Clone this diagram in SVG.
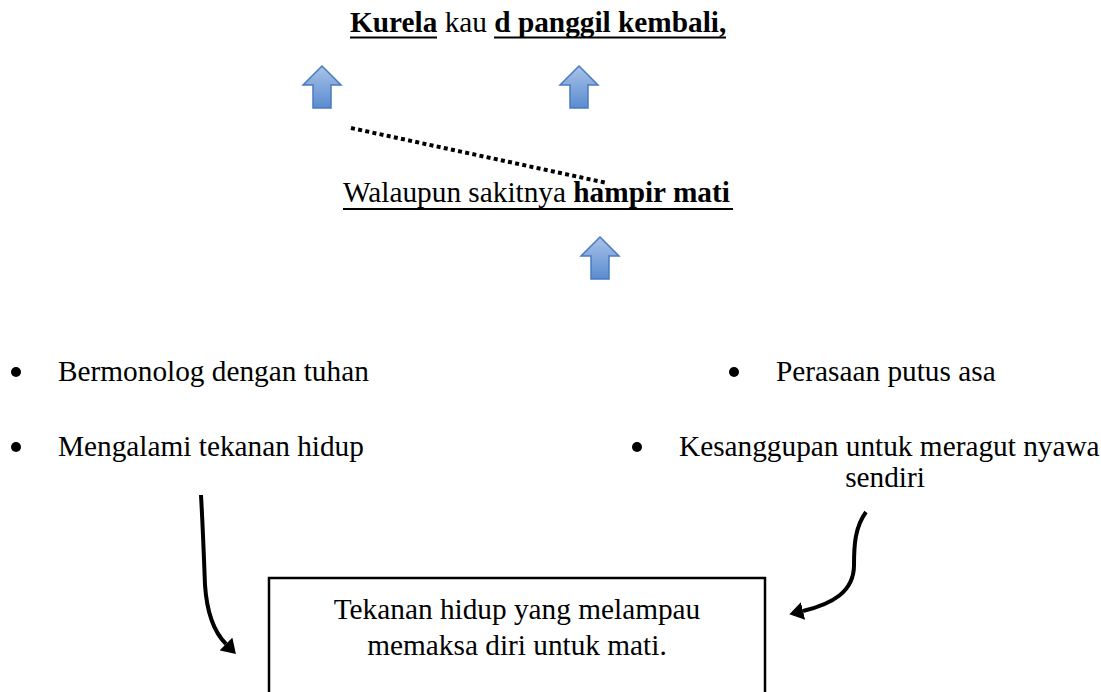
<svg xmlns="http://www.w3.org/2000/svg" xmlns:xlink="http://www.w3.org/1999/xlink" width="1101" height="692" viewBox="0 0 1101 692">
<style>
.t{font-family:"Liberation Serif","Times New Roman",serif;font-size:29.3px;fill:#000}
.b{font-weight:bold}
.ul{stroke:#000;stroke-width:2}
.curve{fill:none;stroke:#000;stroke-width:4;stroke-linecap:butt}
.dots{fill:none;stroke:#000;stroke-width:4;stroke-dasharray:4 3.3}
.blue{fill:url(#bg);stroke:#4a7bc0;stroke-width:1.5}
.box{fill:#fff;stroke:#000;stroke-width:2.5}
.bul{fill:#000}
</style>
<defs>
<linearGradient id="bg" x1="0" y1="0" x2="0" y2="1">
<stop offset="0" stop-color="#a9c3e8"/>
<stop offset="1" stop-color="#5a8bd0"/>
</linearGradient>
<path id="up" d="M19 0 L38 19 L28 19 L28 42 L10 42 L10 19 L0 19 Z"/>
<marker id="ah" markerUnits="userSpaceOnUse" viewBox="0 0 14 18" markerWidth="14" markerHeight="18" refX="0" refY="9" orient="auto">
<path d="M0 0 L14 9 L0 18 Z" fill="#000"/>
</marker>
</defs>
<rect width="1101" height="692" fill="#fff"/>
<g id="title">
<text class="t" x="350" y="32"><tspan class="b">Kurela</tspan> kau <tspan class="b">d panggil kembali,</tspan></text>
<line class="ul" x1="350" y1="37.5" x2="437" y2="37.5"/>
<line class="ul" x1="494" y1="37.5" x2="726" y2="37.5"/>
</g>
<g id="walaupun">
<text class="t" x="343" y="202">Walaupun sakitnya <tspan class="b">hampir mati</tspan></text>
<line class="ul" x1="343" y1="209" x2="733" y2="209"/>
</g>
<g id="bullet-left-1">
<circle class="bul" cx="16" cy="372" r="5"/>
<text class="t" x="58" y="381">Bermonolog dengan tuhan</text>
</g>
<g id="bullet-left-2">
<circle class="bul" cx="16" cy="447" r="5"/>
<text class="t" x="58" y="456">Mengalami tekanan hidup</text>
</g>
<g id="bullet-right-1">
<circle class="bul" cx="734" cy="372" r="5"/>
<text class="t" x="776" y="381">Perasaan putus asa</text>
</g>
<g id="bullet-right-2">
<circle class="bul" cx="637" cy="447" r="5"/>
<text class="t" x="679" y="456">Kesanggupan untuk meragut nyawa</text>
<text class="t" x="885" y="487" text-anchor="middle">sendiri</text>
</g>
<g id="box">
<rect class="box" x="269" y="578" width="496" height="140"/>
<text class="t" x="517" y="619" text-anchor="middle">Tekanan hidup yang melampau</text>
<text class="t" x="517" y="655" text-anchor="middle">memaksa diri untuk mati.</text>
</g>
<g id="connectors">
<use xlink:href="#up" href="#up" class="blue" transform="translate(303,66)"/>
<use xlink:href="#up" href="#up" class="blue" transform="translate(560,66)"/>
<use xlink:href="#up" href="#up" class="blue" transform="translate(581,237)"/>
<line class="dots" x1="351" y1="128" x2="607" y2="183"/>
<path class="curve" d="M201 495 C203 530 204 560 205 585 C207 615 215 633 226 644" marker-end="url(#ah)"/>
<path class="curve" d="M866 512 C855 527 854 545 854 565 C854 592 832 604 803 611" marker-end="url(#ah)"/>
</g>
</svg>
